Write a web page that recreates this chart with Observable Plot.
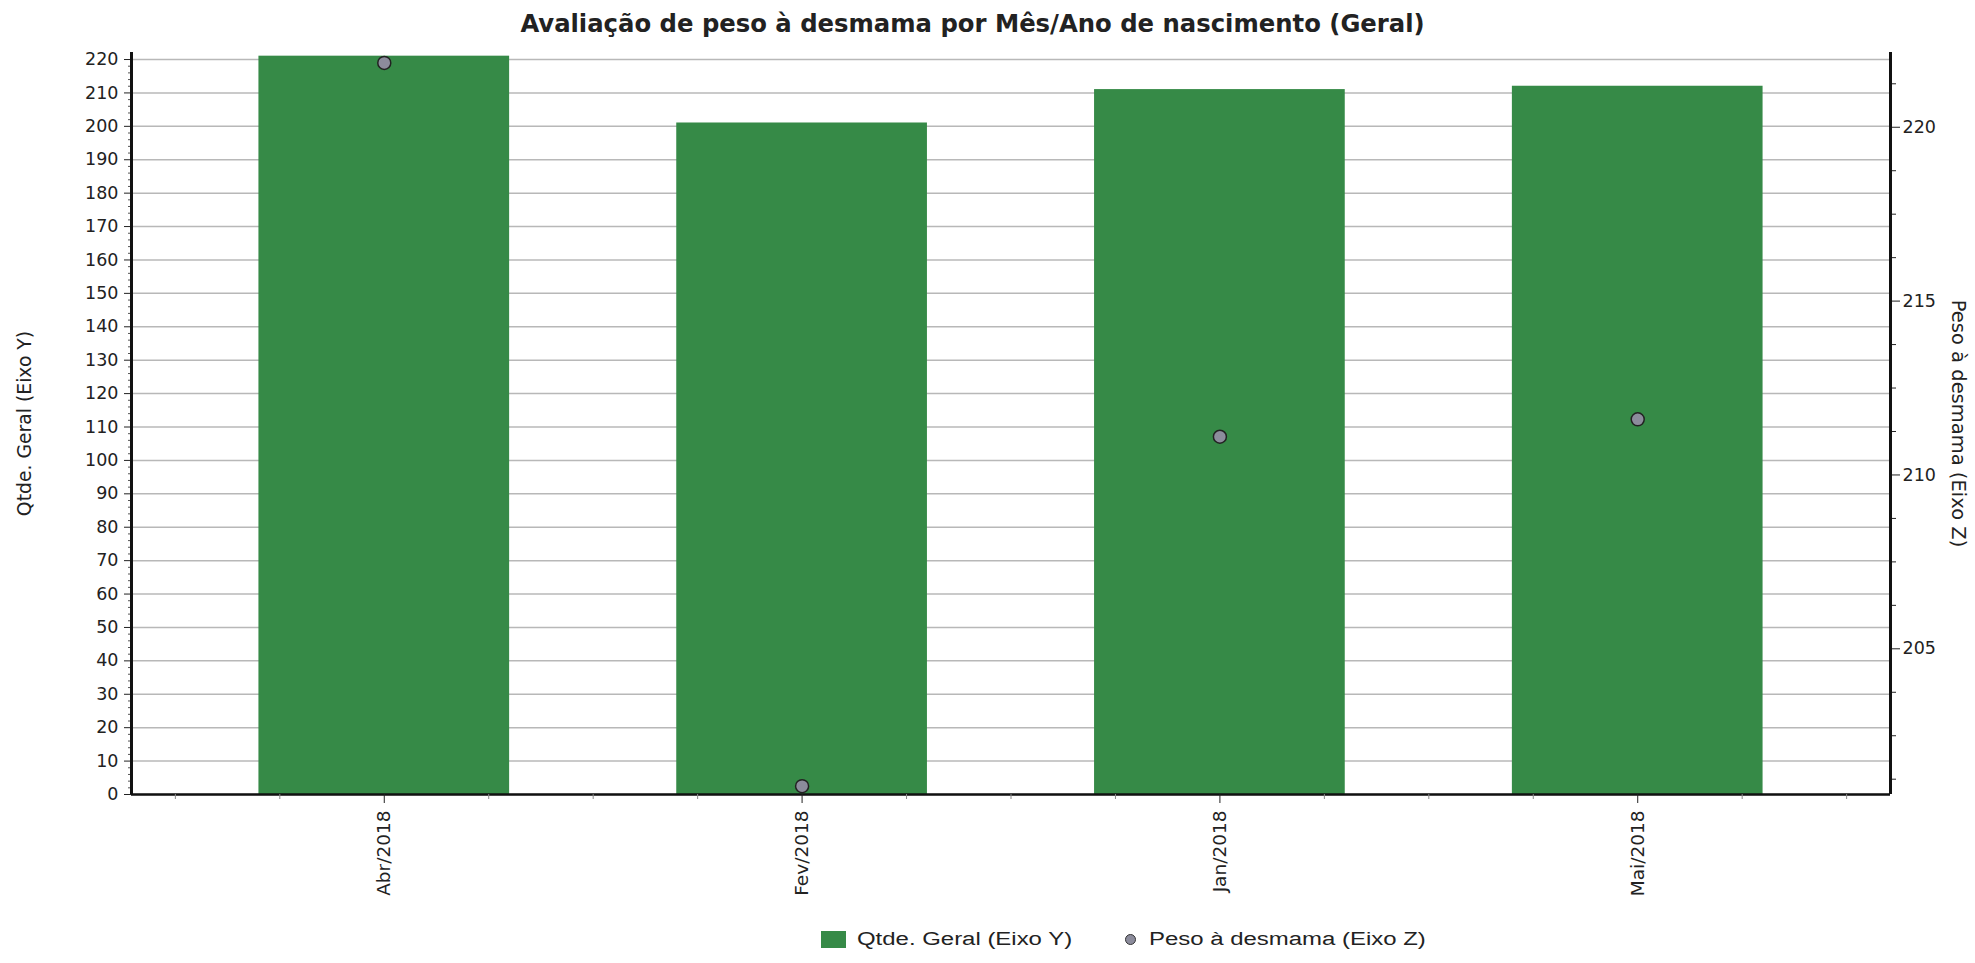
<!DOCTYPE html>
<html>
<head>
<meta charset="utf-8">
<script src="https://cdn.jsdelivr.net/npm/d3@7"></script>
<script src="https://cdn.jsdelivr.net/npm/@observablehq/plot@0.6"></script>
<style>
  html, body { margin: 0; padding: 0; background: #fff; }
  body { width: 1975px; height: 963px; position: relative; overflow: hidden; font-family: "DejaVu Sans", sans-serif; color: #222; }
  #title { position: absolute; left: -15px; top: 12px; width: 1975px; text-align: center; font-weight: bold; font-size: 24.3px; line-height: 1; color: #222; }
  #chart { position: absolute; left: 0; top: 40px; }
  .lg { position: absolute; top: 931px; line-height: 1; }
  .sw { left: 821px; width: 25px; height: 17px; background: #368a47; }
  .dt { left: 1125px; top: 934px; width: 9px; height: 9px; border-radius: 50%; background: #8c8c9c; border: 1.5px solid #333; }
  .tx { top: 930px; font-family: "Liberation Sans", Arial, sans-serif; font-size: 18px; color: #222; white-space: nowrap; transform-origin: left center; transform: scaleX(1.33); }
</style>
</head>
<body>
<div id="title">Avaliação de peso à desmama por Mês/Ano de nascimento (Geral)</div>
<div id="chart"></div>
<div id="legend">
  <span class="lg sw"></span><span class="lg tx" style="left:857px">Qtde. Geral (Eixo Y)</span>
  <span class="lg dt"></span><span class="lg tx" style="left:1149px">Peso à desmama (Eixo Z)</span>
</div>
<script>
// ---- data ----
const categorias = ["Abr/2018", "Fev/2018", "Jan/2018", "Mai/2018"];
const qtdeGeral = [221, 201, 211, 212];
const pesoDesmama = [221.85, 201.05, 211.1, 211.6];
const yTicks = d3.range(0, 221, 10);
const zTicks = [205, 210, 215, 220];
const yLabel = "Qtde. Geral (Eixo Y)";
const zLabel = "Peso à desmama (Eixo Z)";

// ---- scales ----
const yDomain = [0, 222.1];
const zDomain = [200.81, 222.15];
const xDomain = [-0.605, 3.605];
const zToY = d3.scaleLinear().domain(zDomain).range(yDomain);

const rows = categorias.map((c, i) => ({i, cat: c, qtde: qtdeGeral[i], peso: pesoDesmama[i]}));
const zMinor = d3.range(201.25, 222, 1.25).filter(v => !zTicks.includes(v));
const xMinor = d3.range(-0.5, 3.6, 0.25).filter(v => !Number.isInteger(v));
const yMinor = d3.range(0, 222, 2).filter(v => v % 10 !== 0);

const chart = Plot.plot({
  width: 1975,
  height: 870,
  marginLeft: 131,
  marginRight: 85,
  marginTop: 12,
  marginBottom: 116,
  style: {fontFamily: "DejaVu Sans, sans-serif", fontSize: "17px", color: "#222", background: "white", overflow: "visible"},
  x: {type: "linear", domain: xDomain},
  y: {domain: yDomain},
  marks: [
    Plot.gridY(yTicks, {stroke: "#b8b8b8", strokeOpacity: 1, strokeWidth: 1.5}),
    Plot.rect(rows, {x1: d => d.i - 0.3, x2: d => d.i + 0.3, y1: 0, y2: "qtde", fill: "#368a47"}),
    // left axis
    Plot.axisY({ticks: yTicks, tickSize: 7, tickPadding: 6, fontSize: 17.5, label: null}),
    Plot.axisY({ticks: yMinor, tickSize: 3, tickFormat: () => "", stroke: "#555", label: null}),
    Plot.ruleX([xDomain[0]], {stroke: "#111", strokeWidth: 3}),
    // right axis (Z mapped onto y)
    Plot.axisY({anchor: "right", ticks: zTicks.map(zToY), tickFormat: v => Math.round(zToY.invert(v)), tickSize: 9, tickPadding: 3, fontSize: 17.5, label: null}),
    Plot.axisY({anchor: "right", ticks: zMinor.map(zToY), tickSize: 5, tickFormat: () => "", label: null}),
    Plot.ruleX([xDomain[1]], {stroke: "#111", strokeWidth: 3}),
    // bottom axis
    Plot.ruleY([0], {stroke: "#111", strokeWidth: 2.5}),
    Plot.axisX({ticks: d3.range(categorias.length), tickFormat: i => categorias[i], tickRotate: -90, tickSize: 9, tickPadding: 7, fontSize: 18.5, label: null}),
    Plot.axisX({ticks: xMinor, tickSize: 5, tickFormat: () => "", stroke: "#888", label: null}),
    // points on Z axis
    Plot.dot(rows, {x: "i", y: d => zToY(d.peso), r: 6.5, fill: "#8c8c9c", stroke: "#222", strokeWidth: 1.5}),
    // axis titles
    Plot.text([yLabel], {frameAnchor: "left", textAnchor: "middle", lineAnchor: "middle", text: d => d, rotate: -90, dx: -107, fontSize: 18.8, fill: "#222"}),
    Plot.text([zLabel], {frameAnchor: "right", textAnchor: "middle", lineAnchor: "middle", text: d => d, rotate: 90, dx: 68, fontSize: 19.5, fill: "#222"})
  ]
});
document.getElementById("chart").appendChild(chart);
</script>
</body>
</html>
